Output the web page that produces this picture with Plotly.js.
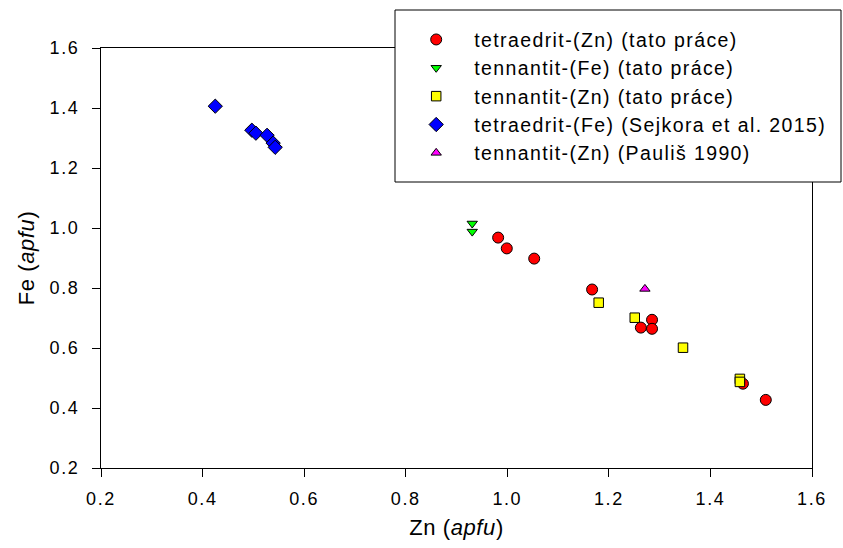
<!DOCTYPE html>
<html>
<head>
<meta charset="utf-8">
<script src="https://cdn.plot.ly/plotly-3.0.1.min.js"></script>
<style>
html,body{margin:0;padding:0;background:#fff;}
#chart{width:843px;height:548px;}
.legendtext{letter-spacing:1.4px;}
.xtick text, .ytick text{letter-spacing:1.6px;}
.xtitle, .ytitle{letter-spacing:0.6px;}
</style>
</head>
<body>
<div id="chart"></div>
<script>
// tetraedrit-(Zn) (tato práce)
const tetZnX = [0.982, 0.999, 1.053, 1.167, 1.285, 1.263, 1.285, 1.464, 1.509];
const tetZnY = [0.968, 0.932, 0.898, 0.795, 0.694, 0.668, 0.664, 0.481, 0.427];
// tennantit-(Fe) (tato práce)
const tenFeX = [0.931, 0.931];
const tenFeY = [1.015, 0.988];
// tennantit-(Zn) (tato práce)
const tenZnX = [1.180, 1.251, 1.346, 1.458, 1.458];
const tenZnY = [0.751, 0.701, 0.601, 0.497, 0.487];
// tetraedrit-(Fe) (Sejkora et al. 2015)
const tetFeX = [0.425, 0.497, 0.505, 0.527, 0.539, 0.543];
const tetFeY = [1.406, 1.326, 1.316, 1.309, 1.283, 1.269];
// tennantit-(Zn) (Pauliš 1990)
const paulisX = [1.271];
const paulisY = [0.797];

const names = [
  "tetraedrit-(Zn) (tato práce)",
  "tennantit-(Fe) (tato práce)",
  "tennantit-(Zn) (tato práce)",
  "tetraedrit-(Fe) (Sejkora et al. 2015)",
  "tennantit-(Zn) (Pauliš 1990)"
];
const tickVals = [0.2, 0.4, 0.6, 0.8, 1.0, 1.2, 1.4, 1.6];

function tr(x, y, name, symbol, color, size, g) {
  return {
    x: x, y: y, name: name, type: 'scatter', mode: 'markers',
    legendgroup: g,
    marker: {symbol: symbol, color: color, size: size, line: {color: '#000', width: 1}}
  };
}
const data = [
  tr(tetZnX, tetZnY, names[0], 'circle', '#ff0000', 11, 'a'),
  tr(tenFeX, tenFeY, names[1], 'triangle-down', '#00ff00', 9, 'b'),
  tr(tenZnX, tenZnY, names[2], 'square', '#ffff00', 9.5, 'c'),
  tr(tetFeX, tetFeY, names[3], 'diamond', '#0000ff', 11, 'd'),
  tr(paulisX, paulisY, names[4], 'triangle-up', '#ff00ff', 9, 'e')
];

const F = '"Liberation Sans", Arial, sans-serif';
const axisCommon = {
  range: [0.2, 1.6], tickvals: tickVals, tickformat: '.1f',
  showgrid: false, zeroline: false, showline: true, linecolor: '#000', linewidth: 1,
  mirror: true, ticks: 'outside', ticklen: 8, tickcolor: '#000', tickwidth: 1,
  tickfont: {family: F, size: 18, color: '#000'}
};
const layout = {
  width: 843, height: 548,
  margin: {l: 101, r: 31, t: 48, b: 80, autoexpand: false},
  paper_bgcolor: '#fff', plot_bgcolor: '#fff',
  font: {family: F, color: '#000'},
  showlegend: true,
  xaxis: Object.assign({}, axisCommon, {
    ticklabelstandoff: 6,
    title: {text: 'Zn (<i>apfu</i>)', font: {family: F, size: 22, color: '#000'}, standoff: 12}
  }),
  yaxis: Object.assign({}, axisCommon, {
    ticklabelstandoff: 9,
    title: {text: 'Fe (<i>apfu</i>)', font: {family: F, size: 22, color: '#000'}, standoff: 8}
  }),
  legend: {
    x: 0.418, y: 1.066, xanchor: 'left', yanchor: 'top',
    bgcolor: 'rgba(0,0,0,0)', borderwidth: 0,
    itemwidth: 66, traceorder: 'grouped', tracegroupgap: 0,
    font: {family: F, size: 19.5, color: '#000'}
  },
  shapes: [{
    type: 'rect', xref: 'paper', yref: 'paper', layer: 'above',
    x0: (395 - 101) / 711, x1: (841 - 101) / 711,
    y0: (468 - 182) / 420, y1: (468 - 10) / 420,
    line: {color: '#000', width: 1}, fillcolor: '#fff'
  }]
};
Plotly.newPlot('chart', data, layout, {displayModeBar: false, staticPlot: true});
</script>
</body>
</html>
